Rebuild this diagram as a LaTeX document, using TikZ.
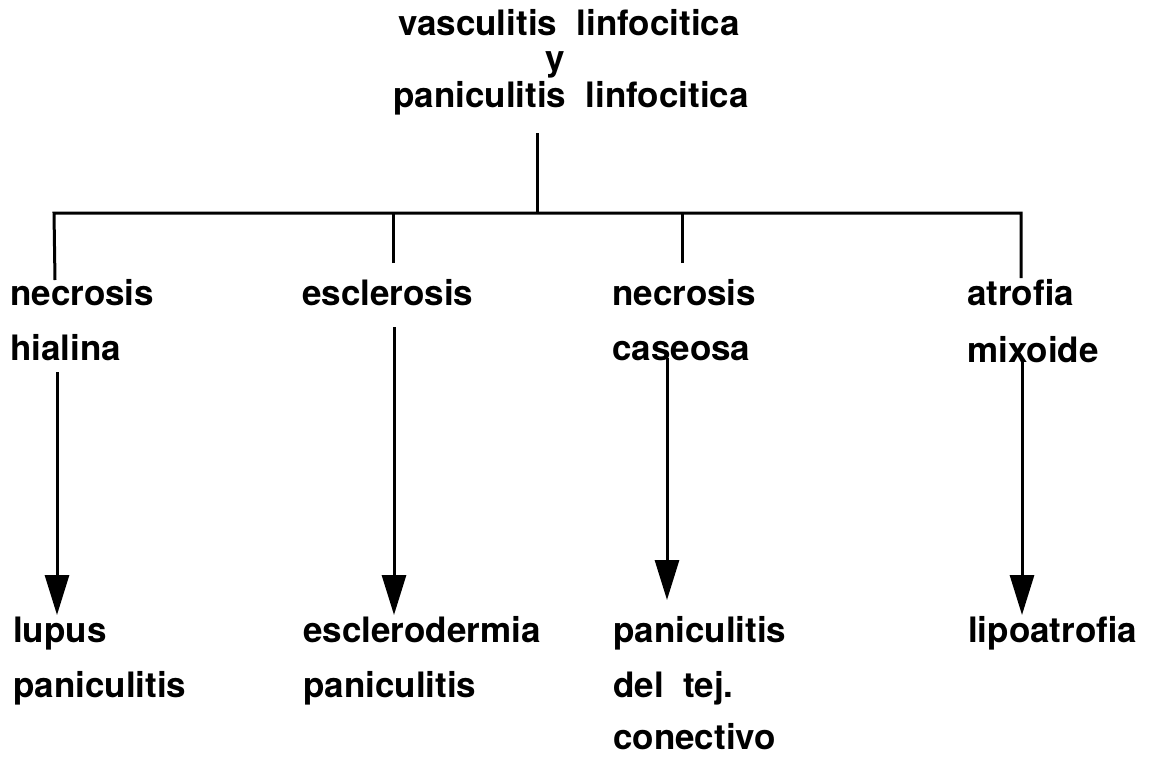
\documentclass[tikz,border=0pt]{standalone}
\usepackage{fontspec}
\setmainfont{TeX Gyre Heros}
\usetikzlibrary{arrows.meta}
\tikzset{
  lbl/.style={inner sep=0pt, anchor=base west, font=\fontsize{35}{42}\selectfont\bfseries},
  ttl/.style={inner sep=0pt, anchor=base, font=\fontsize{35}{42}\selectfont\bfseries},
  ln/.style={line width=3pt},
  arr/.style={line width=3pt, -{Triangle[length=40pt,width=24pt]}}
}
\begin{document}
\begin{tikzpicture}[x=1pt,y=-1pt]
\useasboundingbox (0,0) rectangle (1154,756);
% title
\node[ttl] (t1) at (569,35) {vasculitis\ \ linfocitica};
\node[ttl] (t2) at (555,70) {y};
\node[ttl] (t3) at (571,107) {paniculitis\ \ linfocitica};
% row 1 / 2
\node[lbl] (a1) at (10,305) {necrosis};
\node[lbl] (a2) at (10,360) {hialina};
\node[lbl] (b1) at (302,305) {esclerosis};
\node[lbl] (c1) at (612,305) {necrosis};
\node[lbl] (c2) at (612,360) {caseosa};
\node[lbl] (d1) at (967,305) {atrofia};
\node[lbl] (d2) at (967,362) {mixoide};
% results
\node[lbl] (a3) at (13,642) {lupus};
\node[lbl] (a4) at (13,697) {paniculitis};
\node[lbl] (b3) at (303,642) {esclerodermia};
\node[lbl] (b4) at (303,697) {paniculitis};
\node[lbl] (c3) at (613,642) {paniculitis};
\node[lbl] (c4) at (613,697) {del\ \ tej.};
\node[lbl] (c5) at (613,749) {conectivo};
\node[lbl] (d3) at (968,642) {lipoatrofia};
% tree coordinates
\coordinate (top) at (537,133);
\coordinate (hub) at (537,213);
\coordinate (hl) at (54,213);
\coordinate (hr) at (1021,213);
\coordinate (ea) at (55,280);
\coordinate (eb) at (393,263);
\coordinate (ec) at (682,263);
\coordinate (ed) at (1021,278);
\draw[ln] (top) -- (hub);
\draw[ln] (ea) -- (hl) -- (hr) -- (ed);
\draw[ln] (eb) -- (393,213);
\draw[ln] (ec) -- (682,213);
% arrows
\coordinate (sa) at (57,372);
\coordinate (ta) at (57,615);
\coordinate (sb) at (394,327);
\coordinate (tb) at (394,615);
\coordinate (sc) at (667,358);
\coordinate (tc) at (667,600);
\coordinate (sd) at (1022,360);
\coordinate (td) at (1022,615);
\draw[arr] (sa) -- (ta);
\draw[arr] (sb) -- (tb);
\draw[arr] (sc) -- (tc);
\draw[arr] (sd) -- (td);
\end{tikzpicture}
\end{document}
